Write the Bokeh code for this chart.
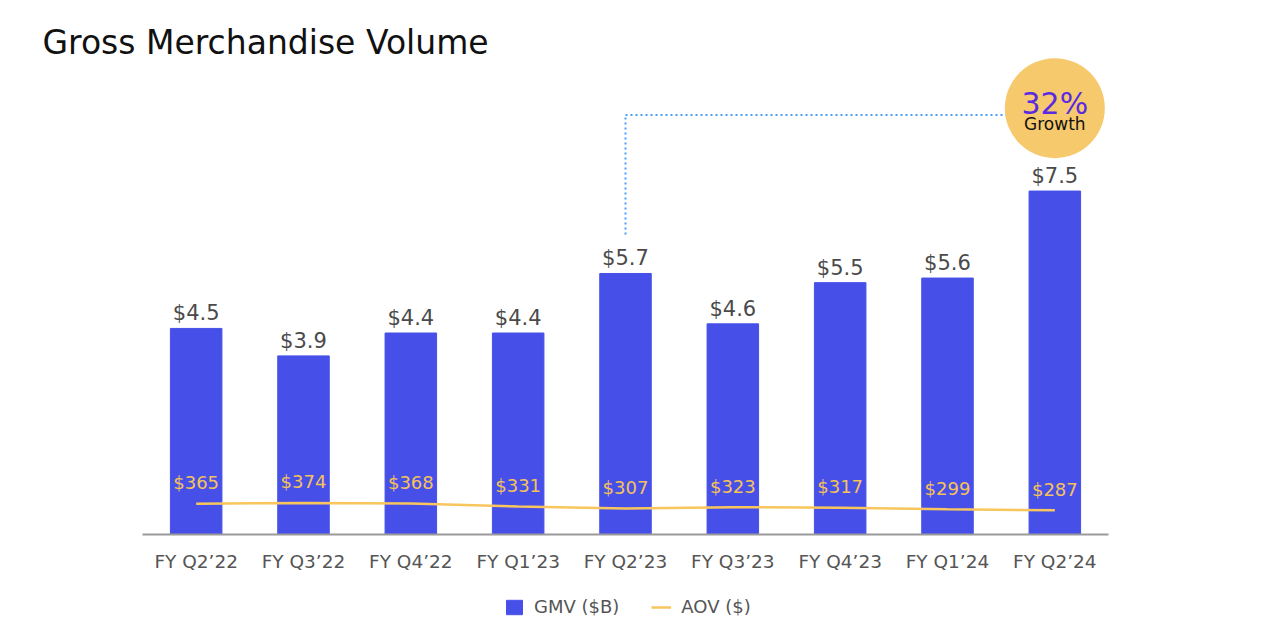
from bokeh.plotting import figure
from bokeh.layouts import column
from bokeh.models import Range1d, Legend, LegendItem, ColumnDataSource, FactorRange, Title
from bokeh.core.properties import value
from bokeh.embed import file_html
from bokeh.resources import INLINE

quarters = ["FY Q2\u201922", "FY Q3\u201922", "FY Q4\u201922", "FY Q1\u201923", "FY Q2\u201923",
            "FY Q3\u201923", "FY Q4\u201923", "FY Q1\u201924", "FY Q2\u201924"]
gmv = [4.5, 3.9, 4.4, 4.4, 5.7, 4.6, 5.5, 5.6, 7.5]
aov = [365, 374, 368, 331, 307, 323, 317, 299, 287]
gmv_labels = ["$%.1f" % v for v in gmv]
aov_labels = ["$%d" % v for v in aov]
growth_text = "32%"
growth_sub = "Growth"
series_names = ["GMV ($B)", "AOV ($)"]

FONT = "DejaVu Sans"
BAR = "#4650E8"
YEL = "#F8C65C"

src = ColumnDataSource(dict(q=quarters, gmv=gmv, aov=aov, gl=gmv_labels, al=aov_labels))
xr = FactorRange(factors=quarters, range_padding=0)

p = figure(x_range=xr, y_range=Range1d(0, 10.46),
           width=1264, height=586, output_backend="svg", toolbar_location=None,
           min_border_left=142, min_border_right=156, min_border_top=55, min_border_bottom=52)
p.extra_y_ranges = {"aov": Range1d(0, 5669)}
p.outline_line_color = None
p.background_fill_color = "white"
p.border_fill_color = "white"
p.xgrid.visible = False
p.ygrid.visible = False
p.yaxis.visible = False

p.title = Title(text="Gross Merchandise Volume", align="left", offset=-100, standoff=-12,
                text_font=FONT, text_font_size="33px", text_font_style="normal",
                text_color="#111111")

xa = p.xaxis[0]
xa.axis_line_color = "#9a9a9a"
xa.axis_line_width = 2
xa.major_tick_line_color = None
xa.major_tick_out = 0
xa.major_tick_in = 0
xa.minor_tick_line_color = None
xa.major_label_standoff = 16
xa.major_label_text_font = FONT
xa.major_label_text_font_size = "18.5px"
xa.major_label_text_color = "#555555"

bars = p.vbar(x="q", top="gmv", width=0.48, source=src, fill_color=BAR, line_color=BAR)
p.text(x="q", y="gmv", text="gl", source=src, text_font=value(FONT), text_font_size="21px",
       text_color="#4a4a4a", text_align="center", text_baseline="bottom", y_offset=-3)

line = p.line(x="q", y="aov", source=src, y_range_name="aov", line_color=YEL, line_width=2.5)
p.text(x="q", y="aov", text="al", source=src, y_range_name="aov", text_font=value(FONT),
       text_font_size="18px", text_color="#F5C25A", text_align="center", text_baseline="middle",
       y_offset=-21)

# growth annotation
p.segment(x0=[quarters[4]], y0=[6.55], x1=[quarters[4]], y1=[9.16], line_color="#4A9EF5",
          line_width=2, line_dash="2 3")
p.segment(x0=[quarters[4]], y0=[9.16], x1=[quarters[8]], y1=[9.16], line_color="#4A9EF5",
          line_width=2, line_dash="2 3")
p.scatter(x=[quarters[8]], y=[9.31], size=100, marker="circle", fill_color="#F6C96C",
          line_color=None)
p.text(x=[quarters[8]], y=[9.31], text=[growth_text], text_font=value(FONT), text_font_size="30px",
       text_color="#5A2BE0", text_align="center", text_baseline="middle", y_offset=-5)
p.text(x=[quarters[8]], y=[9.31], text=[growth_sub], text_font=value(FONT), text_font_size="17px",
       text_color="#111111", text_align="center", text_baseline="middle", y_offset=16)

# legend strip below the chart (series re-drawn out of view, only their legend swatches show)
lg = figure(width=1264, height=50, output_backend="svg", toolbar_location=None,
            x_range=xr, y_range=Range1d(100000, 100001),
            min_border_left=142, min_border_right=156, min_border_top=0, min_border_bottom=0)
lg.axis.visible = False
lg.grid.visible = False
lg.outline_line_color = None
lb = lg.vbar(x="q", top="gmv", width=0.48, source=src, fill_color=BAR, line_color=BAR)
ll = lg.line(x="q", y="aov", source=src, line_color=YEL, line_width=2.5)
legend = Legend(items=[LegendItem(label=series_names[0], renderers=[lb]),
                       LegendItem(label=series_names[1], renderers=[ll])],
                orientation="horizontal", location=(362, 19), border_line_color=None,
                background_fill_alpha=0,
                label_text_font=FONT, label_text_font_size="18px", label_text_color="#555555",
                glyph_width=20, glyph_height=18, label_standoff=10, spacing=32, margin=0, padding=4)
lg.add_layout(legend, "center")

layout = column(p, lg, spacing=0)
open("out.html", "w").write(file_html(layout, INLINE))
